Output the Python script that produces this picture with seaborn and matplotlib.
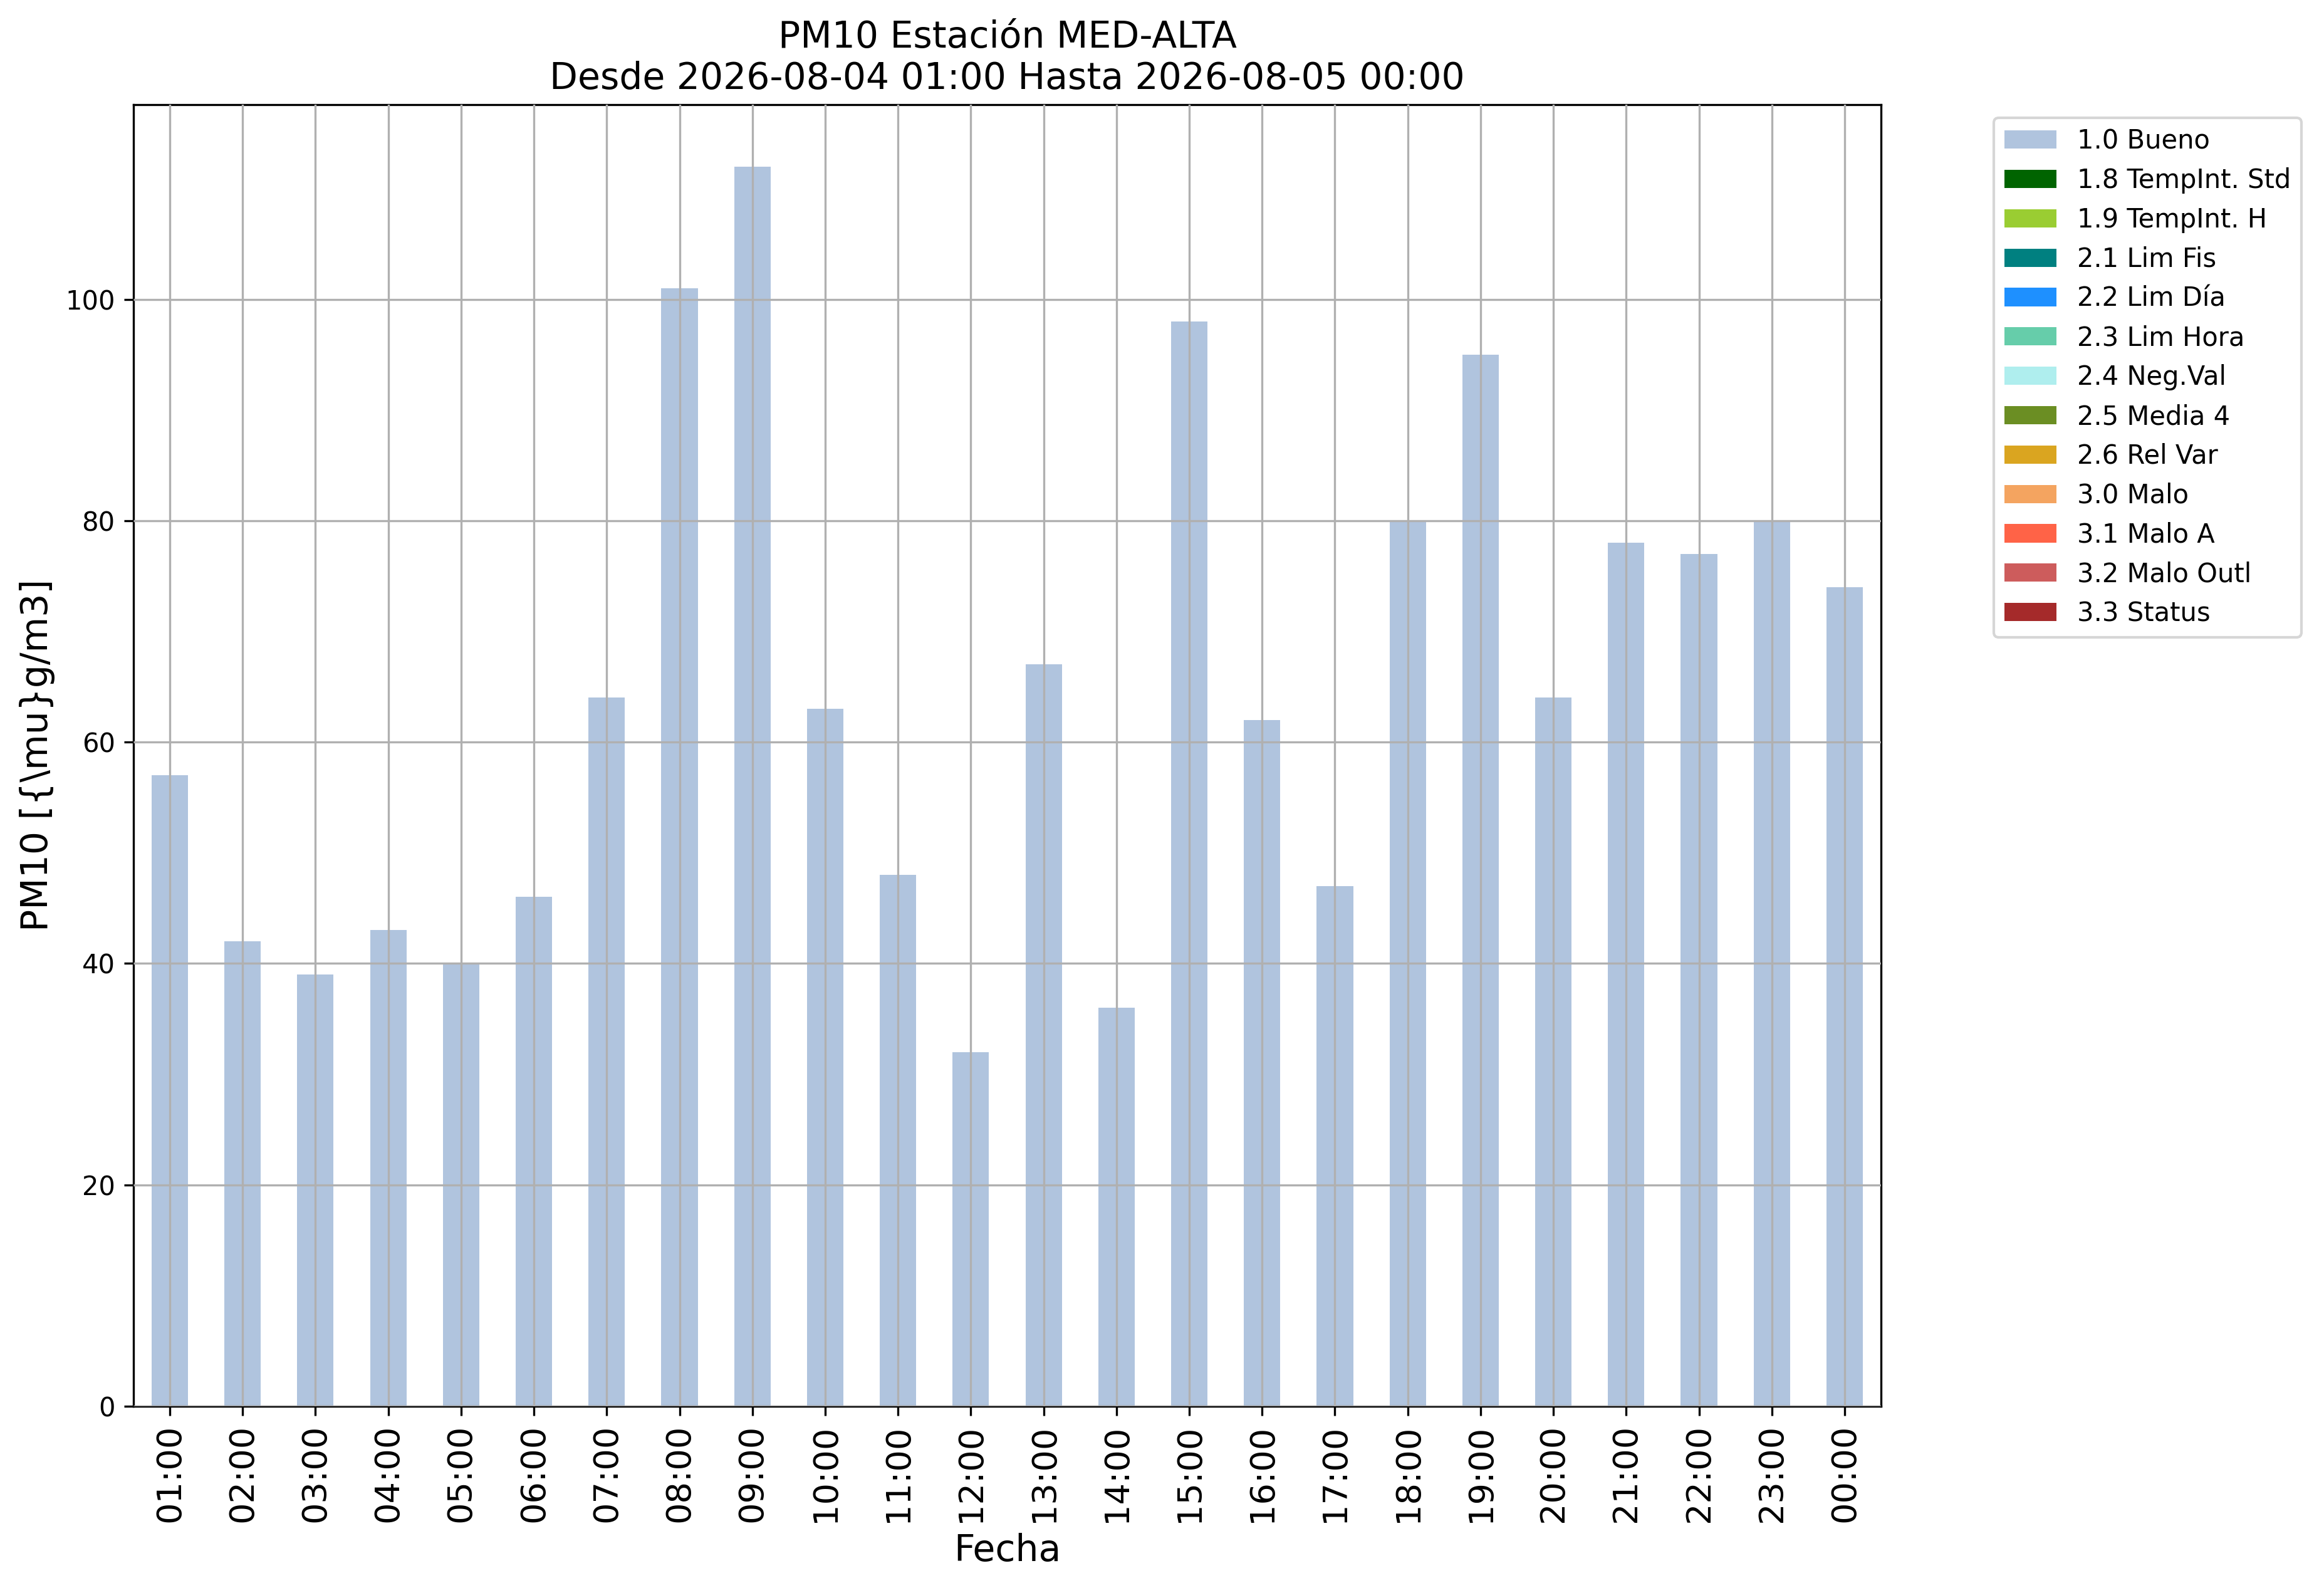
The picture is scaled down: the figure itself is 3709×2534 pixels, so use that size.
import numpy as np
import pandas as pd
import matplotlib as mpl
mpl.use('Agg')
import matplotlib.pyplot as plt
from matplotlib.patches import Patch
import seaborn as sns

# Datos
horas = ['01:00', '02:00', '03:00', '04:00', '05:00', '06:00', '07:00', '08:00',
         '09:00', '10:00', '11:00', '12:00', '13:00', '14:00', '15:00', '16:00',
         '17:00', '18:00', '19:00', '20:00', '21:00', '22:00', '23:00', '00:00']
pm10_bueno = [57, 42, 39, 43, 40, 46, 64, 101, 112, 63, 48, 32, 67, 36, 98, 62,
              47, 80, 95, 64, 78, 77, 80, 74]

etiquetas = ['1.0 Bueno', '1.8 TempInt. Std', '1.9 TempInt. H', '2.1 Lim Fis',
             '2.2 Lim Día', '2.3 Lim Hora', '2.4 Neg.Val', '2.5 Media 4',
             '2.6 Rel Var', '3.0 Malo', '3.1 Malo A', '3.2 Malo Outl', '3.3 Status']
colores = ['lightsteelblue', 'darkgreen', 'yellowgreen', 'teal', 'dodgerblue',
           'mediumaquamarine', 'paleturquoise', 'olivedrab', 'goldenrod',
           'sandybrown', 'tomato', 'indianred', 'brown']

titulo = 'PM10 Estación MED-ALTA\nDesde 2026-08-04 01:00 Hasta 2026-08-05 00:00'

df = pd.DataFrame({'Fecha': horas, 'valor': pm10_bueno})

fig = plt.figure(figsize=(3709 / 300, 2534 / 300), dpi=300)
ax = fig.add_axes([0.0574, 0.1145, 0.8094 - 0.0574, 0.9342 - 0.1145])

sns.barplot(data=df, x='Fecha', y='valor', order=horas, color=colores[0],
            saturation=1, width=0.5, linewidth=0, ax=ax)

ax.grid(True)
ax.set_axisbelow(False)
ax.set_xlim(-0.5, len(horas) - 0.5)
ax.set_ylim(0, max(pm10_bueno) * 1.05)

ax.tick_params(axis='x', labelsize=13, labelrotation=90)
ax.tick_params(axis='y', labelsize=10)
ax.set_xlabel('Fecha', fontsize=14)
ax.set_ylabel(r'PM10 [{\mu}g/m3]', fontsize=14)
ax.set_title(titulo, fontsize=14)

handles = [Patch(facecolor=c, label=l) for l, c in zip(etiquetas, colores)]
ax.legend(handles=handles, bbox_to_anchor=(1.057, 1), loc='upper left',
          fontsize=10)

fig.savefig('out.png', dpi=300)
